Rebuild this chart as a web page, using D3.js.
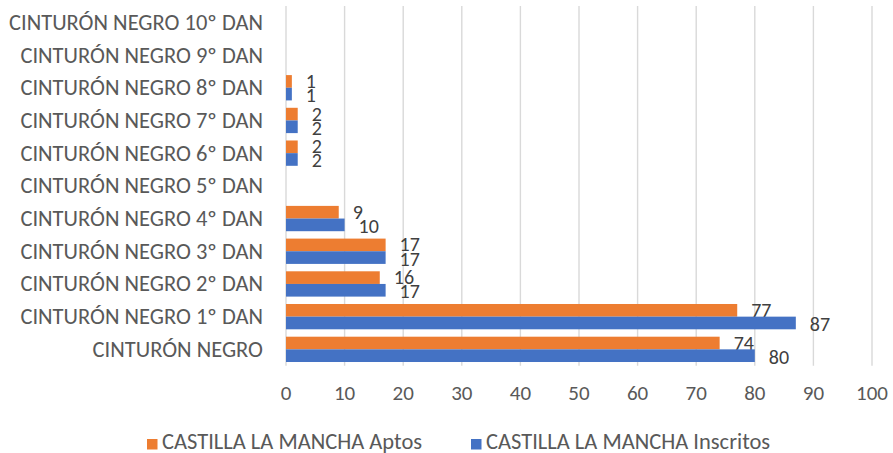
<!DOCTYPE html>
<html><head><meta charset="utf-8">
<script src="https://cdn.jsdelivr.net/npm/d3@7"></script>
<style>body{margin:0;background:#fff}svg{display:block}</style>
</head><body>
<svg id="c" width="893" height="453"></svg>
<script>
const categories = ["CINTURÓN NEGRO 10º DAN","CINTURÓN NEGRO 9º DAN","CINTURÓN NEGRO 8º DAN","CINTURÓN NEGRO 7º DAN","CINTURÓN NEGRO 6º DAN","CINTURÓN NEGRO 5º DAN","CINTURÓN NEGRO 4º DAN","CINTURÓN NEGRO 3º DAN","CINTURÓN NEGRO 2º DAN","CINTURÓN NEGRO 1º DAN","CINTURÓN NEGRO"];
const seriesNames = ["CASTILLA LA MANCHA Aptos","CASTILLA LA MANCHA Inscritos"];
const aptos = [null,null,1,2,2,null,9,17,16,77,74];
const inscritos = [null,null,1,2,2,null,10,17,17,87,80];
const xTicks = [0,10,20,30,40,50,60,70,80,90,100];
const colors = ["#ED7D31","#4472C4"];

const font = "Carlito, Calibri, 'Liberation Sans', Arial, sans-serif";
const txt = "#595959";
const svg = d3.select("#c");
const x = d3.scaleLinear().domain([0,100]).range([286,872]);
const y = d3.scaleBand().domain(categories).range([6,365.7]).paddingInner(0).paddingOuter(0);
const sub = d3.scaleBand().domain([0,1]).range([0,y.bandwidth()]).paddingInner(0).paddingOuter(0.292);

// gridlines
svg.append("g").selectAll("line").data(xTicks).join("line")
  .attr("x1",d=>x(d)).attr("x2",d=>x(d)).attr("y1",6).attr("y2",365.7)
  .attr("stroke","#d9d9d9").attr("stroke-width",1.4);

// x tick labels
svg.append("g").selectAll("text").data(xTicks).join("text")
  .attr("x",d=>x(d)).attr("y",393).attr("text-anchor","middle").attr("dominant-baseline","central")
  .attr("font-family",font).attr("font-size",21).attr("fill",txt).text(d=>d);

// category labels
svg.append("g").selectAll("text").data(categories).join("text")
  .attr("x",263).attr("y",d=>y(d)+y.bandwidth()/2).attr("text-anchor","end").attr("dominant-baseline","central")
  .attr("font-family",font).attr("font-size",22.5).attr("fill",txt).text(d=>d);

const series = [aptos, inscritos];
series.forEach((vals,si)=>{
  const data = categories.map((c,i)=>({c,v:vals[i]})).filter(d=>d.v!=null);
  svg.append("g").selectAll("rect").data(data).join("rect")
    .attr("x",x(0)).attr("y",d=>y(d.c)+sub(si)).attr("width",d=>x(d.v)-x(0)).attr("height",sub.bandwidth())
    .attr("fill",colors[si]);
  svg.append("g").selectAll("text").data(data).join("text")
    .attr("x",d=>x(d.v)+14).attr("y",d=>y(d.c)+sub(si)+sub.bandwidth()/2 + (si===0?-0.5:1))
    .attr("dominant-baseline","central")
    .attr("font-family",font).attr("font-size",20).attr("fill","#404040").text(d=>d.v);
});

// legend
const leg = [{x:147,tx:162},{x:471,tx:486}];
seriesNames.forEach((n,i)=>{
  svg.append("rect").attr("x",leg[i].x).attr("y",439).attr("width",10.5).attr("height",10.5).attr("fill",colors[i]);
  svg.append("text").attr("x",leg[i].tx).attr("y",441).attr("dominant-baseline","central")
    .attr("font-family",font).attr("font-size",22.5).attr("fill",txt).text(n);
});
</script>
</body></html>
